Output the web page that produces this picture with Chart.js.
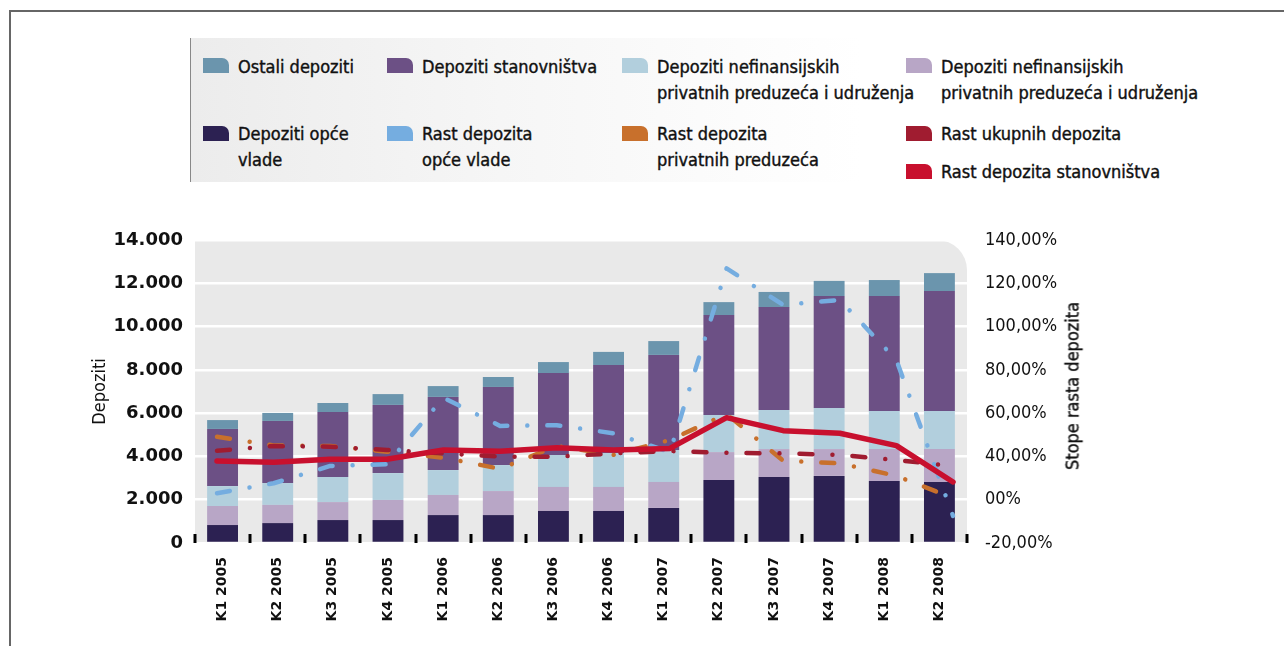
<!DOCTYPE html>
<html>
<head>
<meta charset="utf-8">
<script src="https://cdn.jsdelivr.net/npm/chart.js@4.4.1/dist/chart.umd.min.js"></script>
<style>
  html, body { margin: 0; padding: 0; background: #fff; }
  #wrap { position: relative; width: 1284px; height: 646px; overflow: hidden; }
  #frame { position: absolute; left: 9px; top: 10px; width: 1400px; height: 700px;
           border-left: 2px solid #666; border-top: 2px solid #666; }
  #legend { position: absolute; left: 190px; top: 38px; width: 1030px; height: 144px;
            border-left: 1px solid #888;
            background: linear-gradient(90deg, #ececec 0%, #f6f6f6 30%, #ffffff 65%); }
  .sw { position: absolute; width: 26px; height: 15px; border-top-right-radius: 7px; }
  .lt { position: absolute; font-family: "DejaVu Sans Condensed", "Liberation Sans Narrow", sans-serif;
        font-stretch: condensed; font-size: 18px; line-height: 26px; color: #111; white-space: pre-line;
        -webkit-text-stroke: 0.4px #111; }
  #rtitle { position: absolute; left: 1072px; top: 386px; transform: translate(-50%, -50%) rotate(-90deg);
            font-family: "DejaVu Sans Condensed", "Liberation Sans Narrow", sans-serif; font-stretch: condensed;
            font-size: 18px; color: #111; white-space: nowrap; -webkit-text-stroke: 0.4px #111; }
  canvas { position: absolute; left: 0; top: 0; }
</style>
</head>
<body>
<div id="wrap">
  <div id="frame"></div>
  <div id="legend"></div>
  <canvas id="chart" width="1284" height="646"></canvas>
  <div id="rtitle">Stope rasta depozita</div>
</div>
<script>
const categories = ['K1 2005', 'K2 2005', 'K3 2005', 'K4 2005', 'K1 2006', 'K2 2006', 'K3 2006',
    'K4 2006', 'K1 2007', 'K2 2007', 'K3 2007', 'K4 2007', 'K1 2008', 'K2 2008'];

// stacked bars (mil.), bottom to top
const opceVlade    = [830, 920, 1060, 1060, 1290, 1290, 1480, 1480, 1620, 2910, 3050, 3100, 2860, 2820];
const nefinLila    = [880, 840, 830, 930, 930, 1110, 1110, 1110, 1200, 1290, 1290, 1240, 1480, 1520];
const nefinPlava   = [920, 1010, 1160, 1240, 1150, 1200, 1480, 1570, 1480, 1710, 1810, 1900, 1760, 1760];
const stanovnistvo = [2640, 2870, 3000, 3150, 3380, 3610, 3780, 4060, 4390, 4620, 4750, 5170, 5310, 5540];
const ostali       = [410, 370, 420, 500, 500, 460, 510, 610, 640, 600, 700, 700, 740, 830];

// growth rates (%)
const rastStanovnistva = [37.9, 37.3, 38.7, 38.7, 43.0, 42.4, 44.0, 43.0, 43.7, 57.9, 51.9, 50.7, 45.0, 28.2];
const rastUkupnih      = [42.6, 44.8, 44.5, 43.0, 41.4, 39.9, 39.9, 41.4, 42.5, 41.7, 41.4, 40.7, 38.3, 35.6];
const rastPrivatnih    = [49.1, 45.1, 44.8, 42.2, 39.4, 34.3, 44.8, 40.7, 47.6, 59.6, 38.0, 36.8, 31.0, 20.8];
const rastOpceVlade    = [23.0, 27.6, 35.6, 36.4, 67.1, 54.1, 54.4, 50.7, 42.0, 126.9, 110.0, 112.3, 84.5, 12.5];

const leftTickLabels  = ['0', '2.000', '4.000', '6.000', '8.000', '10.000', '12.000', '14.000'];
const rightTickLabels = ['-20,00%', '00%', '40,00%', '60,00%', '80,00%', '100,00%', '120,00%', '140,00%'];

const legendItems = [
    { text: 'Ostali depoziti', color: '#6b95ad', x: 202, y: 58, ty: 54 },
    { text: 'Depoziti stanovništva', color: '#6c5085', x: 386, y: 58, ty: 54 },
    { text: 'Depoziti nefinansijskih\nprivatnih preduzeća i udruženja', color: '#b2cfdd', x: 621, y: 58, ty: 54 },
    { text: 'Depoziti nefinansijskih\nprivatnih preduzeća i udruženja', color: '#b8a6c6', x: 905, y: 58, ty: 54 },
    { text: 'Depoziti opće\nvlade', color: '#2c2152', x: 202, y: 126, ty: 121 },
    { text: 'Rast depozita\nopće vlade', color: '#75ade0', x: 386, y: 126, ty: 121 },
    { text: 'Rast depozita\nprivatnih preduzeća', color: '#c8702c', x: 621, y: 126, ty: 121 },
    { text: 'Rast ukupnih depozita', color: '#a01c30', x: 905, y: 126, ty: 121 },
    { text: 'Rast depozita stanovništva', color: '#c8102e', x: 905, y: 164, ty: 159 }
];

const legendEl = document.getElementById('legend');
legendItems.forEach(it => {
    const sw = document.createElement('div');
    sw.className = 'sw';
    sw.style.left = (it.x - 190) + 'px';
    sw.style.top = (it.y - 38) + 'px';
    sw.style.background = it.color;
    legendEl.appendChild(sw);
    const t = document.createElement('div');
    t.className = 'lt';
    t.style.left = (it.x - 190 + 35) + 'px';
    t.style.top = (it.ty - 38) + 'px';
    t.textContent = it.text;
    legendEl.appendChild(t);
});

const toPoints = arr => arr.map((v, i) => ({ x: i, y: v }));
const dashDot = [13, 20, 0.01, 20];

const plotBg = {
    id: 'plotBg',
    beforeDraw(chart) {
        const { ctx, chartArea: a } = chart;
        ctx.save();
        ctx.fillStyle = '#e9e9e9';
        ctx.beginPath();
        ctx.roundRect(a.left, a.top, a.right - a.left, a.bottom - a.top, [0, 30, 0, 0]);
        ctx.fill();
        ctx.restore();
    }
};

const innerTicks = {
    id: 'innerTicks',
    afterDraw(chart) {
        const { ctx, chartArea: a } = chart;
        const xs = chart.scales.x;
        const step = (xs.right - xs.left) / categories.length;
        ctx.save();
        ctx.strokeStyle = '#000';
        ctx.lineWidth = 3;
        for (let i = 0; i <= categories.length; i++) {
            const x = Math.round(xs.left + i * step);
            ctx.beginPath();
            ctx.moveTo(x, a.bottom - 9);
            ctx.lineTo(x, a.bottom);
            ctx.stroke();
        }
        ctx.restore();
    }
};

const barDs = (label, data, color) => ({
    type: 'bar', label, data, backgroundColor: color, borderWidth: 0, stack: 'dep', grouped: false,
    barPercentage: 0.56, categoryPercentage: 1, order: 10, yAxisID: 'y', xAxisID: 'x'
});
const lineDs = (label, data, color, width, dash, order) => ({
    type: 'line', label, data: toPoints(data), borderColor: color, backgroundColor: color,
    borderWidth: width, borderDash: dash, borderCapStyle: 'round', borderJoinStyle: 'round',
    pointRadius: 0, tension: 0, fill: false, order, yAxisID: 'y2', xAxisID: 'xl'
});

new Chart(document.getElementById('chart'), {
    type: 'bar',
    data: {
        labels: categories,
        datasets: [
            barDs('Depoziti opće vlade', opceVlade, '#2c2152'),
            barDs('Depoziti nefinansijskih privatnih preduzeća i udruženja', nefinLila, '#b8a6c6'),
            barDs('Depoziti nefinansijskih privatnih preduzeća i udruženja', nefinPlava, '#b2cfdd'),
            barDs('Depoziti stanovništva', stanovnistvo, '#6c5085'),
            barDs('Ostali depoziti', ostali, '#6b95ad'),
            lineDs('Rast depozita stanovništva', rastStanovnistva, '#c8102e', 5.5, [], 0),
            lineDs('Rast ukupnih depozita', rastUkupnih, '#a01c30', 4.5, dashDot, 1),
            lineDs('Rast depozita privatnih preduzeća', rastPrivatnih, '#c8702c', 4.5, dashDot, 2),
            lineDs('Rast depozita opće vlade', rastOpceVlade, '#75ade0', 4.5, dashDot, 3)
        ]
    },
    options: {
        responsive: false,
        animation: false,
        layout: { padding: { left: 80, right: 177, top: 240, bottom: 0 } },
        plugins: { legend: { display: false }, tooltip: { enabled: false } },
        scales: {
            x: {
                stacked: true,
                grid: { display: false },
                border: { display: false },
                ticks: {
                    minRotation: 90, maxRotation: 90, padding: 6, color: '#111',
                    font: { family: 'DejaVu Sans', size: 14, weight: 'bold' }
                },
                afterFit: s => { s.height = 103; }
            },
            xl: {
                type: 'linear', display: false, offset: false, grid: { offset: false },
                min: -0.389, max: 13.247
            },
            y: {
                stacked: true, position: 'left', min: 0, max: 14000,
                ticks: {
                    stepSize: 2000, padding: 12, color: '#111',
                    font: { family: 'DejaVu Sans', size: 18, weight: 'bold' },
                    callback: (v, i) => leftTickLabels[i]
                },
                grid: { color: '#ffffff', lineWidth: 2.5, drawTicks: false },
                border: { display: false },
                title: {
                    display: true, text: 'Depoziti', color: '#111', padding: { top: 10, bottom: 0 },
                    font: { family: 'DejaVu Sans Condensed', size: 18 }
                },
                afterFit: s => { s.width = 115; }
            },
            y2: {
                position: 'right', min: 0, max: 140,
                ticks: {
                    stepSize: 20, padding: 18, color: '#111',
                    font: { family: 'DejaVu Sans Condensed', size: 18 },
                    callback: (v, i) => rightTickLabels[i]
                },
                grid: { display: false, drawTicks: false },
                border: { display: false },
                afterFit: s => { s.width = 140; }
            }
        }
    },
    plugins: [plotBg, innerTicks]
});
</script>
</body>
</html>
